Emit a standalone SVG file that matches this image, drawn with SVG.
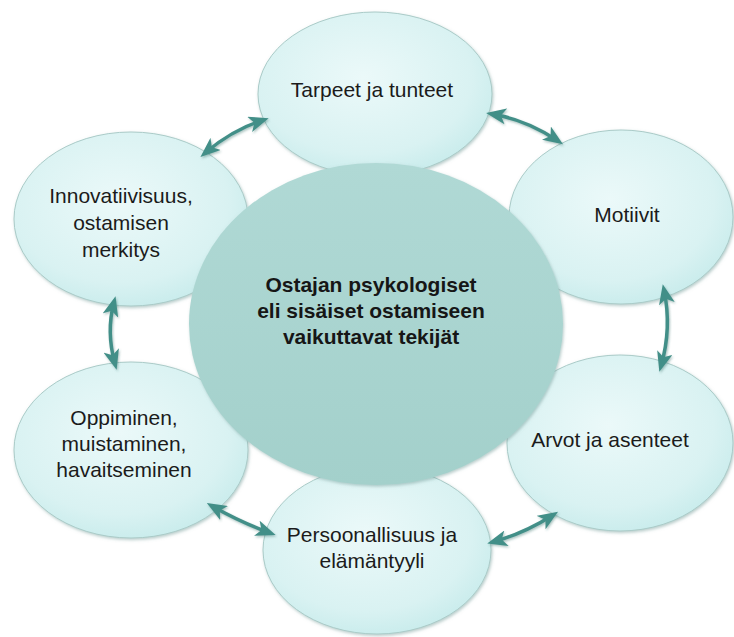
<svg xmlns="http://www.w3.org/2000/svg" width="734" height="637" viewBox="0 0 734 637">
  <defs>
    <radialGradient id="bubble" cx="45%" cy="40%" r="62%">
      <stop offset="0" stop-color="#ebf9f9"/>
      <stop offset="0.75" stop-color="#d9f2f2"/>
      <stop offset="1" stop-color="#c9ecec"/>
    </radialGradient>
    <linearGradient id="core" x1="0" y1="0" x2="0" y2="1">
      <stop offset="0" stop-color="#b0d9d5"/>
      <stop offset="1" stop-color="#a3d0cb"/>
    </linearGradient>
    <filter id="soft" x="-10%" y="-10%" width="120%" height="120%">
      <feDropShadow dx="1" dy="1.5" stdDeviation="1.4" flood-color="#6f9a96" flood-opacity="0.5"/>
    </filter>
    <filter id="arrowShade" filterUnits="userSpaceOnUse" x="0" y="0" width="734" height="637">
      <feDropShadow dx="1" dy="1.5" stdDeviation="1.2" flood-color="#2f6a64" flood-opacity="0.4"/>
    </filter>
    <marker id="head" viewBox="0 0 20 16" markerWidth="20" markerHeight="16" refX="14" refY="8" orient="auto-start-reverse" markerUnits="userSpaceOnUse">
      <path d="M0,0 L20,8 L0,16 L5,8 z" fill="#438f88"/>
    </marker>
    <style>
      .node { fill: url(#bubble); stroke: #aacbc8; stroke-width: 1; filter: url(#soft); }
      .label { font-family: "Liberation Sans", Arial, sans-serif; font-size: 21px; fill: #1b1b1b; text-anchor: middle; }
      .core-label { font-family: "Liberation Sans", Arial, sans-serif; font-size: 21px; font-weight: bold; fill: #161616; text-anchor: middle; }
      .link { fill: none; stroke: #438f88; stroke-width: 3.5; marker-start: url(#head); marker-end: url(#head); }
    </style>
  </defs>

  <rect width="734" height="637" fill="#ffffff"/>

  <!-- outer factors -->
  <g id="tarpeet">
    <ellipse class="node" cx="375" cy="94" rx="117" ry="82"/>
    <text class="label" x="372" y="97">Tarpeet ja tunteet</text>
  </g>
  <g id="motiivit">
    <ellipse class="node" cx="621" cy="217" rx="112" ry="87"/>
    <text class="label" x="627" y="222">Motiivit</text>
  </g>
  <g id="arvot">
    <ellipse class="node" cx="620" cy="443" rx="113" ry="88"/>
    <text class="label" x="610" y="447">Arvot ja asenteet</text>
  </g>
  <g id="persoonallisuus">
    <ellipse class="node" cx="377" cy="550" rx="114" ry="84"/>
    <text class="label" x="372" y="542">Persoonallisuus ja</text>
    <text class="label" x="372" y="568">elämäntyyli</text>
  </g>
  <g id="oppiminen">
    <ellipse class="node" cx="131" cy="450" rx="117" ry="88"/>
    <text class="label" x="124" y="425">Oppiminen,</text>
    <text class="label" x="124" y="451">muistaminen,</text>
    <text class="label" x="124" y="477">havaitseminen</text>
  </g>
  <g id="innovatiivisuus">
    <ellipse class="node" cx="131" cy="219" rx="117" ry="87"/>
    <text class="label" x="121" y="203">Innovatiivisuus,</text>
    <text class="label" x="121" y="230">ostamisen</text>
    <text class="label" x="121" y="257">merkitys</text>
  </g>

  <!-- central topic -->
  <g id="keskus">
    <ellipse cx="376" cy="324" rx="187" ry="161" fill="url(#core)" filter="url(#soft)"/>
    <text class="core-label" x="371" y="292">Ostajan psykologiset</text>
    <text class="core-label" x="371" y="318">eli sisäiset ostamiseen</text>
    <text class="core-label" x="371" y="344">vaikuttavat tekijät</text>
  </g>

  <!-- two-way links between neighbouring factors -->
  <g id="connectors" filter="url(#arrowShade)">
    <path class="link" d="M205,153 Q232,130 263,120"/>
    <path class="link" d="M492,114 Q527,120 558,141"/>
    <path class="link" d="M664,290 Q672,328 661,366"/>
    <path class="link" d="M114,302 Q106,332 115,364"/>
    <path class="link" d="M212,506 Q240,522 270,533"/>
    <path class="link" d="M493,542 Q525,533 553,515"/>
  </g>
</svg>
